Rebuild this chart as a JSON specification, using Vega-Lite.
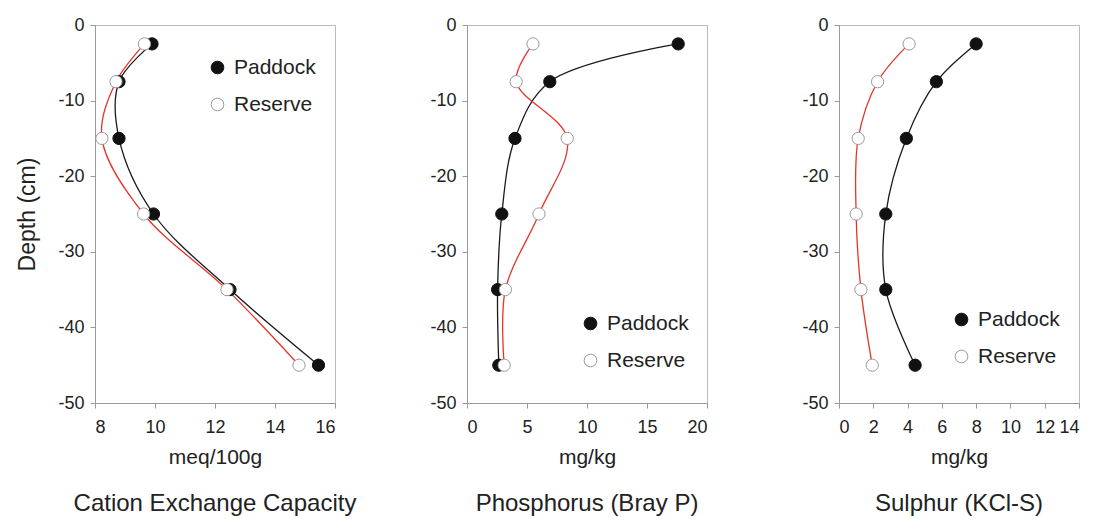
{
  "$schema": "https://vega.github.io/schema/vega-lite/v6.json",
  "padding": {"left": 16, "top": 15, "right": 5, "bottom": 0},
  "background": "white",
  "config": {
    "font": "Liberation Sans",
    "view": {"stroke": "#bbbbbb", "strokeWidth": 1},
    "axis": {
      "grid": false,
      "domainColor": "#999999",
      "tickColor": "#999999",
      "tickSize": 5,
      "labelColor": "#222222",
      "labelFontSize": 18,
      "labelPadding": 6,
      "titleColor": "#222222",
      "titleFontSize": 21,
      "titleFontWeight": "normal"
    },
    "axisX": {"labelPadding": 10},
    "legend": {
      "labelFontSize": 21,
      "labelColor": "#222222",
      "symbolSize": 160,
      "symbolStrokeWidth": 1,
      "labelOffset": 6,
      "rowPadding": 15,
      "padding": 0
    },
    "title": {"fontSize": 24, "fontWeight": "normal", "color": "#222222"}
  },
  "datasets": {
    "soil": [
      {"panel": "CEC", "series": "Paddock", "depth": -2.5, "value": 9.9},
      {"panel": "CEC", "series": "Paddock", "depth": -7.5, "value": 8.8},
      {"panel": "CEC", "series": "Paddock", "depth": -15, "value": 8.8},
      {"panel": "CEC", "series": "Paddock", "depth": -25, "value": 9.95},
      {"panel": "CEC", "series": "Paddock", "depth": -35, "value": 12.5},
      {"panel": "CEC", "series": "Paddock", "depth": -45, "value": 15.45},
      {"panel": "CEC", "series": "Reserve", "depth": -2.5, "value": 9.65},
      {"panel": "CEC", "series": "Reserve", "depth": -7.5, "value": 8.7},
      {"panel": "CEC", "series": "Reserve", "depth": -15, "value": 8.23},
      {"panel": "CEC", "series": "Reserve", "depth": -25, "value": 9.62},
      {"panel": "CEC", "series": "Reserve", "depth": -35, "value": 12.4},
      {"panel": "CEC", "series": "Reserve", "depth": -45, "value": 14.8},
      {"panel": "P", "series": "Paddock", "depth": -2.5, "value": 17.6},
      {"panel": "P", "series": "Paddock", "depth": -7.5, "value": 6.9},
      {"panel": "P", "series": "Paddock", "depth": -15, "value": 4.0},
      {"panel": "P", "series": "Paddock", "depth": -25, "value": 2.9},
      {"panel": "P", "series": "Paddock", "depth": -35, "value": 2.55},
      {"panel": "P", "series": "Paddock", "depth": -45, "value": 2.65},
      {"panel": "P", "series": "Reserve", "depth": -2.5, "value": 5.5},
      {"panel": "P", "series": "Reserve", "depth": -7.5, "value": 4.1},
      {"panel": "P", "series": "Reserve", "depth": -15, "value": 8.35},
      {"panel": "P", "series": "Reserve", "depth": -25, "value": 6.0},
      {"panel": "P", "series": "Reserve", "depth": -35, "value": 3.2},
      {"panel": "P", "series": "Reserve", "depth": -45, "value": 3.1},
      {"panel": "S", "series": "Paddock", "depth": -2.5, "value": 8.0},
      {"panel": "S", "series": "Paddock", "depth": -7.5, "value": 5.68},
      {"panel": "S", "series": "Paddock", "depth": -15, "value": 3.93},
      {"panel": "S", "series": "Paddock", "depth": -25, "value": 2.73},
      {"panel": "S", "series": "Paddock", "depth": -35, "value": 2.73},
      {"panel": "S", "series": "Paddock", "depth": -45, "value": 4.44},
      {"panel": "S", "series": "Reserve", "depth": -2.5, "value": 4.09},
      {"panel": "S", "series": "Reserve", "depth": -7.5, "value": 2.25},
      {"panel": "S", "series": "Reserve", "depth": -15, "value": 1.12},
      {"panel": "S", "series": "Reserve", "depth": -25, "value": 1.0},
      {"panel": "S", "series": "Reserve", "depth": -35, "value": 1.28},
      {"panel": "S", "series": "Reserve", "depth": -45, "value": 1.94}
    ]
  },
  "bounds": "flush",
  "spacing": 132,
  "resolve": {
    "scale": {"x": "independent", "y": "independent"},
    "axis": {"x": "independent", "y": "independent"},
    "legend": {"fill": "independent", "stroke": "independent"}
  },
  "hconcat": [
    {
      "width": 240,
      "height": 378,
      "data": {"name": "soil"},
      "transform": [{"filter": "datum.panel === 'CEC'"}],
      "title": {"text": "Cation Exchange Capacity", "orient": "bottom", "offset": 25},
      "encoding": {
        "y": {"field": "depth", "type": "quantitative", "scale": {"domain": [-50, 0], "nice": false},
              "axis": {"values": [-50, -40, -30, -20, -10, 0], "labelExpr": "datum.value < 0 ? '-' + abs(datum.value) : '' + datum.value", "title": "Depth (cm)", "titleFontSize": 23, "titlePadding": 18}},
        "x": {"field": "value", "type": "quantitative", "scale": {"domain": [8, 16], "nice": false, "zero": false},
              "axis": {"values": [8, 10, 12, 14, 16], "title": "meq/100g", "titlePadding": 10}}
      },
      "layer": [
        {
          "mark": {"type": "line", "interpolate": "catmull-rom", "strokeWidth": 1.3},
          "encoding": {
            "color": {"field": "series", "type": "nominal", "scale": {"domain": ["Paddock", "Reserve"], "range": ["#1a1a1a", "#e3352b"]}, "legend": null},
            "order": {"field": "depth", "type": "quantitative", "sort": "descending"}
          }
        },
        {
          "mark": {"type": "point", "filled": false, "size": 150, "strokeWidth": 1, "opacity": 1},
          "encoding": {
            "fill": {"field": "series", "type": "nominal", "scale": {"domain": ["Paddock", "Reserve"], "range": ["#111111", "#ffffff"]},
                     "legend": {"title": null, "orient": "none", "legendX": 112, "legendY": 32, "symbolType": "circle"}},
            "stroke": {"field": "series", "type": "nominal", "scale": {"domain": ["Paddock", "Reserve"], "range": ["#111111", "#999999"]},
                       "legend": {"title": null, "orient": "none", "legendX": 112, "legendY": 32, "symbolType": "circle"}}
          }
        }
      ]
    },
    {
      "width": 240,
      "height": 378,
      "data": {"name": "soil"},
      "transform": [{"filter": "datum.panel === 'P'"}],
      "title": {"text": "Phosphorus (Bray P)", "orient": "bottom", "offset": 25},
      "encoding": {
        "y": {"field": "depth", "type": "quantitative", "scale": {"domain": [-50, 0], "nice": false},
              "axis": {"values": [-50, -40, -30, -20, -10, 0], "labelExpr": "datum.value < 0 ? '-' + abs(datum.value) : '' + datum.value", "title": null}},
        "x": {"field": "value", "type": "quantitative", "scale": {"domain": [0, 20], "nice": false},
              "axis": {"values": [0, 5, 10, 15, 20], "title": "mg/kg", "titlePadding": 10}}
      },
      "layer": [
        {
          "mark": {"type": "line", "interpolate": "catmull-rom", "strokeWidth": 1.3},
          "encoding": {
            "color": {"field": "series", "type": "nominal", "scale": {"domain": ["Paddock", "Reserve"], "range": ["#1a1a1a", "#e3352b"]}, "legend": null},
            "order": {"field": "depth", "type": "quantitative", "sort": "descending"}
          }
        },
        {
          "mark": {"type": "point", "filled": false, "size": 150, "strokeWidth": 1, "opacity": 1},
          "encoding": {
            "fill": {"field": "series", "type": "nominal", "scale": {"domain": ["Paddock", "Reserve"], "range": ["#111111", "#ffffff"]},
                     "legend": {"title": null, "orient": "none", "legendX": 113, "legendY": 288, "symbolType": "circle"}},
            "stroke": {"field": "series", "type": "nominal", "scale": {"domain": ["Paddock", "Reserve"], "range": ["#111111", "#999999"]},
                       "legend": {"title": null, "orient": "none", "legendX": 113, "legendY": 288, "symbolType": "circle"}}
          }
        }
      ]
    },
    {
      "width": 240,
      "height": 378,
      "data": {"name": "soil"},
      "transform": [{"filter": "datum.panel === 'S'"}],
      "title": {"text": "Sulphur (KCl-S)", "orient": "bottom", "offset": 25},
      "encoding": {
        "y": {"field": "depth", "type": "quantitative", "scale": {"domain": [-50, 0], "nice": false},
              "axis": {"values": [-50, -40, -30, -20, -10, 0], "labelExpr": "datum.value < 0 ? '-' + abs(datum.value) : '' + datum.value", "title": null}},
        "x": {"field": "value", "type": "quantitative", "scale": {"domain": [0, 14], "nice": false},
              "axis": {"values": [0, 2, 4, 6, 8, 10, 12, 14], "title": "mg/kg", "titlePadding": 10}}
      },
      "layer": [
        {
          "mark": {"type": "line", "interpolate": "catmull-rom", "strokeWidth": 1.3},
          "encoding": {
            "color": {"field": "series", "type": "nominal", "scale": {"domain": ["Paddock", "Reserve"], "range": ["#1a1a1a", "#e3352b"]}, "legend": null},
            "order": {"field": "depth", "type": "quantitative", "sort": "descending"}
          }
        },
        {
          "mark": {"type": "point", "filled": false, "size": 150, "strokeWidth": 1, "opacity": 1},
          "encoding": {
            "fill": {"field": "series", "type": "nominal", "scale": {"domain": ["Paddock", "Reserve"], "range": ["#111111", "#ffffff"]},
                     "legend": {"title": null, "orient": "none", "legendX": 112, "legendY": 284, "symbolType": "circle"}},
            "stroke": {"field": "series", "type": "nominal", "scale": {"domain": ["Paddock", "Reserve"], "range": ["#111111", "#999999"]},
                       "legend": {"title": null, "orient": "none", "legendX": 112, "legendY": 284, "symbolType": "circle"}}
          }
        }
      ]
    }
  ]
}
